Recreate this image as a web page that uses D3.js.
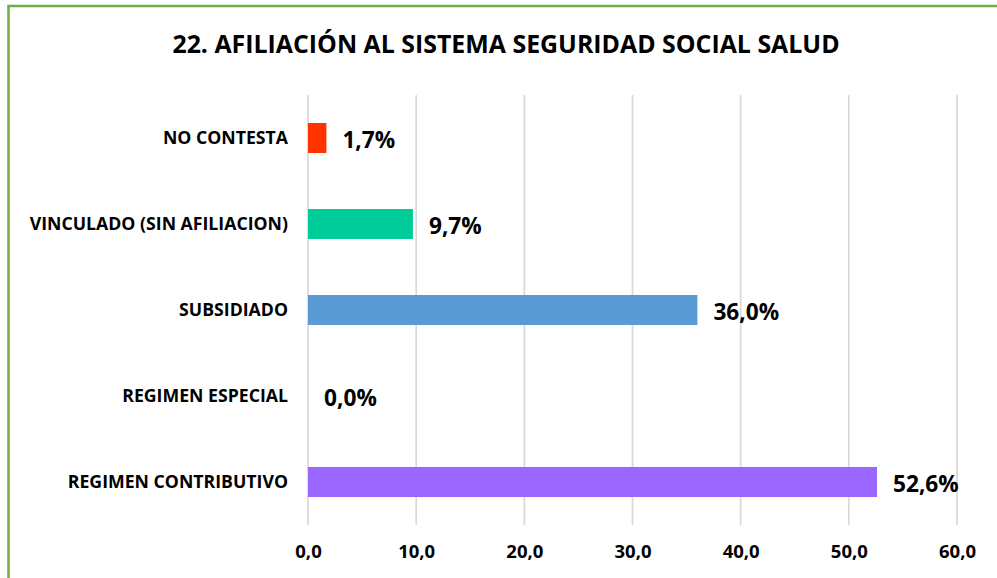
<!DOCTYPE html>
<html>
<head>
<meta charset="utf-8">
<script src="https://cdn.jsdelivr.net/npm/d3@7"></script>
<style>
  html, body { margin: 0; padding: 0; background: #fff; }
  svg { display: block; font-family: "Open Sans", "DejaVu Sans", sans-serif; }
</style>
</head>
<body>
<svg id="chart" width="997" height="578"></svg>
<script>
const title = "22. AFILIACIÓN AL SISTEMA SEGURIDAD SOCIAL SALUD";
const categories = ["NO CONTESTA", "VINCULADO (SIN AFILIACION)", "SUBSIDIADO", "REGIMEN ESPECIAL", "REGIMEN CONTRIBUTIVO"];
const values = [1.7, 9.7, 36.0, 0.0, 52.6];
const colors = ["#ff3300", "#00cc99", "#5b9bd5", "#a5a5a5", "#9966ff"];
const ticks = [0, 10, 20, 30, 40, 50, 60];

const svg = d3.select("#chart");
const W = 997, H = 578;
const plot = { left: 308, right: 957, top: 95, bottom: 525 };

svg.append("rect").attr("width", W).attr("height", H).attr("fill", "#fff");
svg.append("rect")
  .attr("x", 8.5).attr("y", 6).attr("width", 1000).attr("height", 600)
  .attr("fill", "none").attr("stroke", "#70ad47").attr("stroke-width", 2.5);

const x = d3.scaleLinear().domain([0, 60]).range([plot.left, plot.right]);
const y = d3.scaleBand().domain(categories).range([plot.top, plot.bottom])
  .paddingInner(0.651).paddingOuter(0.3255);

const fmt1 = v => d3.format(".1f")(v).replace(".", ",");

// gridlines
svg.append("g").selectAll("line").data(ticks).join("line")
  .attr("x1", d => x(d)).attr("x2", d => x(d))
  .attr("y1", plot.top).attr("y2", plot.bottom)
  .attr("stroke", "#d9d9d9").attr("stroke-width", 1.7);

// x axis tick labels
const xAxis = d3.axisBottom(x).tickValues(ticks).tickFormat(fmt1).tickSize(0).tickPadding(0);
const gx = svg.append("g").attr("transform", `translate(0,${552})`).call(xAxis);
gx.select(".domain").remove();
gx.selectAll("text")
  .attr("dy", "0.35em").attr("y", 0)
  .attr("font-family", "Open Sans").attr("font-weight", "bold")
  .attr("font-size", 18.5).attr("fill", "#000");

// y axis category labels
const yAxis = d3.axisLeft(y).tickSize(0).tickPadding(0);
const gy = svg.append("g").attr("transform", `translate(288,0)`).call(yAxis);
gy.select(".domain").remove();
gy.selectAll("text")
  .attr("font-family", "Open Sans").attr("font-weight", "bold")
  .attr("font-size", 17.7).attr("fill", "#000").attr("dy", "0.35em");

// bars
svg.append("g").selectAll("rect").data(categories).join("rect")
  .attr("x", x(0))
  .attr("y", d => y(d))
  .attr("width", (d, i) => x(values[i]) - x(0))
  .attr("height", y.bandwidth())
  .attr("fill", (d, i) => colors[i]);

// value labels
svg.append("g").selectAll("text").data(categories).join("text")
  .attr("x", (d, i) => x(values[i]) + 16)
  .attr("y", d => y(d) + y.bandwidth() / 2 + 2)
  .attr("dy", "0.35em")
  .attr("font-family", "Open Sans").attr("font-weight", "bold")
  .attr("font-size", 22.7).attr("fill", "#000")
  .text((d, i) => fmt1(values[i]) + "%");

// title
svg.append("text")
  .attr("x", 506).attr("y", 44).attr("dy", "0.35em")
  .attr("text-anchor", "middle")
  .attr("font-family", "Open Sans").attr("font-weight", "bold")
  .attr("font-size", 24.9).attr("fill", "#000")
  .text(title);
</script>
</body>
</html>
